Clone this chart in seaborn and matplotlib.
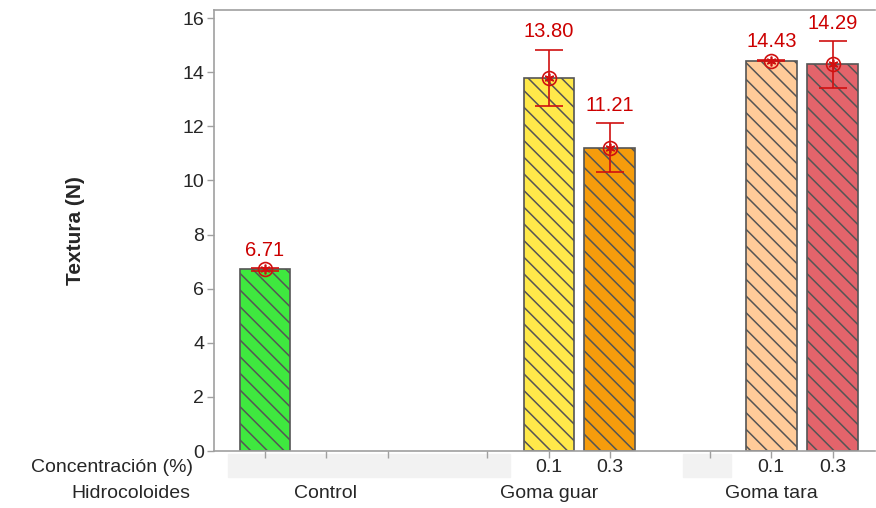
import numpy as np
import pandas as pd
import matplotlib
matplotlib.use("Agg")
import matplotlib.pyplot as plt
import matplotlib.transforms as mtransforms
import matplotlib.patches as mpatches
import seaborn as sns

# data
hidrocoloides = ["Control", "Goma guar", "Goma guar", "Goma tara", "Goma tara"]
concentracion = ["", "0.1", "0.3", "0.1", "0.3"]
textura = [6.71, 13.80, 11.21, 14.43, 14.29]
error = [0.05, 1.03, 0.91, 0.03, 0.86]
grupos = ["Control", "Goma guar", "Goma tara"]

# layout (slot units along x)
slot = [0, 4.62, 5.61, 8.24, 9.24]
tick_slots = [0, 0.99, 2.0, 3.61, 4.62, 5.61, 7.24, 8.24, 9.24]
grupo_x = [0.99, 4.62, 8.24]
colores = ["#3fe83f", "#ffe94a", "#f59c0c", "#ffcb99", "#e3646b"]

sns.set_theme(style="white")
plt.rcParams["font.family"] = ["Liberation Sans", "DejaVu Sans"]
plt.rcParams["hatch.color"] = "#555555"
plt.rcParams["hatch.linewidth"] = 1.1

fs = 14
df = pd.DataFrame({"x": slot, "textura": textura, "error": error,
                   "etiqueta": [f"{h} {c}" for h, c in zip(hidrocoloides, concentracion)]})

fig = plt.figure(figsize=(8.76, 5.08), dpi=100)
ax = fig.add_axes([214 / 876, 1 - 451 / 508, 1 - 214 / 876 - 0.001, 441 / 508])

sns.barplot(data=df, x="x", y="textura", hue="etiqueta", palette=colores,
            native_scale=True, width=0.83, errorbar=None, legend=False, saturation=1,
            edgecolor="#555555", linewidth=1.2, ax=ax)
for p in ax.patches:
    p.set_hatch("\\\\")

red = "#d01010"
ax.errorbar(df["x"], df["textura"], yerr=df["error"], fmt="none",
            ecolor=red, elinewidth=1.2, capsize=10, capthick=1.2, zorder=5)
ax.plot(df["x"], df["textura"], "o", ms=10, mfc="none", mec=red, mew=1.2, zorder=6)
ax.plot(df["x"], df["textura"], marker=(6, 2, 0), ls="none", ms=7, mec=red, mew=1.2, zorder=6)

for xi, yi, ei in zip(df["x"], df["textura"], df["error"]):
    ax.annotate(f"{yi:.2f}", (xi, yi + ei), xytext=(0, 6), textcoords="offset points",
                ha="center", va="bottom", color="#cc0000", fontsize=14.5)

ax.set_xlim(-0.83, 9.93)
ax.set_ylim(0, 16.3)
ax.set_yticks(range(0, 17, 2))
ax.set_xticks(tick_slots)
ax.set_xticklabels([""] * len(tick_slots))
ax.tick_params(axis="both", which="both", direction="out", length=5, width=1,
               color="#a0a0a0", labelsize=fs, left=True, bottom=True)
ax.tick_params(axis="y", pad=2)
for s in ["left", "bottom", "top"]:
    ax.spines[s].set_color("#a0a0a0")
    ax.spines[s].set_linewidth(1.2)
ax.spines["right"].set_visible(False)
ax.set_xlabel("")
ax.set_ylabel("Textura (N)", fontsize=15, fontweight="bold")
ax.yaxis.set_label_coords(-0.195, 0.5)

# bottom label rows
trans = mtransforms.blended_transform_factory(ax.transData, fig.transFigure)
row1 = 1 - 467 / 508
row2 = 1 - 494 / 508
for x0, x1 in [(-0.60, 3.98), (6.81, 7.59)]:
    ax.add_patch(mpatches.Rectangle((x0, 1 - 477 / 508), x1 - x0, 23 / 508, transform=trans,
                                    color="#f2f2f2", clip_on=False, zorder=0))
for xi, c in zip(slot, concentracion):
    if c:
        ax.text(xi, row1, c, transform=trans, ha="center", va="center", fontsize=fs)
for xi, g in zip(grupo_x, grupos):
    ax.text(xi, row2, g, transform=trans, ha="center", va="center", fontsize=fs)
fig.text(193 / 876, row1, "Concentración (%)", ha="right", va="center", fontsize=fs)
fig.text(190 / 876, row2, "Hidrocoloides", ha="right", va="center", fontsize=fs)

fig.savefig("out.png", dpi=100)
